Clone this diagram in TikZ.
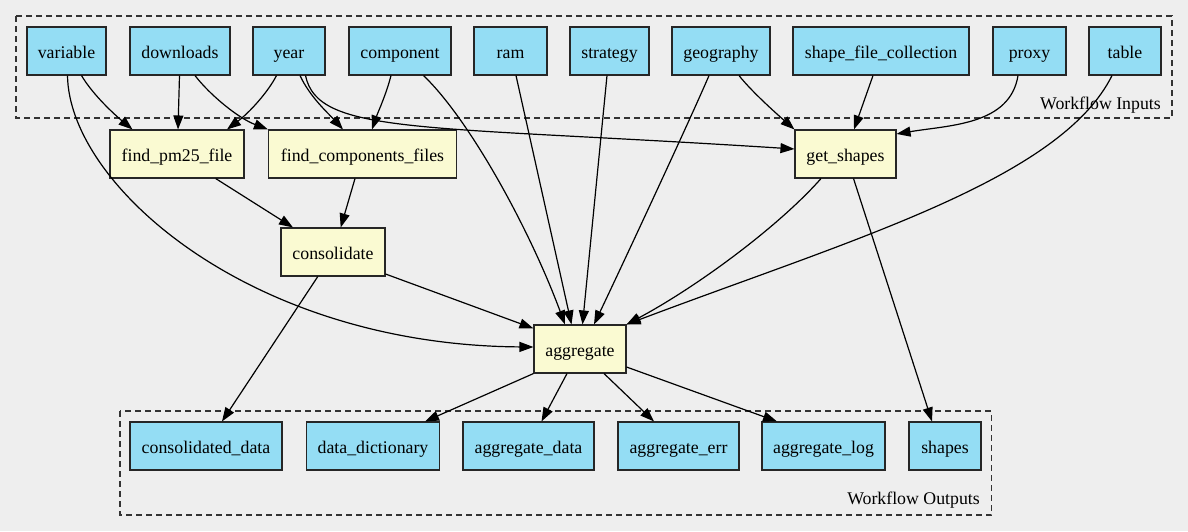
\documentclass[tikz,border=0pt]{standalone}
\usepackage{fontspec}
\setmainfont{Liberation Serif}
\usetikzlibrary{arrows.meta}
\definecolor{inbox}{RGB}{148,221,244}
\definecolor{taskbox}{RGB}{250,250,210}
\definecolor{bg}{RGB}{238,238,238}
\begin{document}
\begin{tikzpicture}[x=1pt,y=-1pt,
  box/.style={draw=black!85, line width=1.1pt, minimum height=48pt, inner sep=0pt,
    text height=18pt, text depth=4pt, font=\fontsize{17.8}{20}\selectfont},
  io/.style={box, fill=inbox},
  task/.style={box, fill=taskbox},
  e/.style={line width=1.2pt, -{Triangle[length=14pt,width=10pt]}},
  cluster/.style={draw=black!80, line width=1.3pt, dash pattern=on 6pt off 4pt},
  clabel/.style={font=\fontsize{17.8}{20}\selectfont, anchor=base east, inner sep=0pt}]
\fill[bg] (0,0) rectangle (1188,531);
\useasboundingbox (0,0) rectangle (1188,531);

% clusters
\draw[cluster] (16,16) rectangle (1172,118);
\node[clabel] (inlabel) at (1161,109) {Workflow Inputs};
\draw[cluster] (120,411) rectangle (991.5,515);
\node[clabel] (outlabel) at (980,504.5) {Workflow Outputs};

% workflow inputs
\node[io, minimum width=79pt]  (variable)  at (66.5,51)  {variable};
\node[io, minimum width=100pt] (downloads) at (180,51)   {downloads};
\node[io, minimum width=72pt]  (year)      at (289,51)   {year};
\node[io, minimum width=102pt] (component) at (400,51)   {component};
\node[io, minimum width=73pt]  (ram)       at (510.5,51) {ram};
\node[io, minimum width=79pt]  (strategy)  at (609.5,51) {strategy};
\node[io, minimum width=98pt]  (geography) at (721,51)   {geography};
\node[io, minimum width=176pt] (sfc)       at (881,51)   {shape\_file\_collection};
\node[io, minimum width=73pt]  (proxy)     at (1029.5,51){proxy};
\node[io, minimum width=72pt]  (table)     at (1125,51)  {table};

% tasks
\node[task, minimum width=134pt] (fpm)  at (177,154)   {find\_pm25\_file};
\node[task, minimum width=188pt] (fcf)  at (362.5,154) {find\_components\_files};
\node[task, minimum width=101pt] (gs)   at (845.5,154) {get\_shapes};
\node[task, minimum width=104pt] (cons) at (333,252)   {consolidate};
\node[task, minimum width=92pt]  (agg)  at (580,349)   {aggregate};

% workflow outputs
\node[io, minimum width=152pt] (cd) at (206,446)   {consolidated\_data};
\node[io, minimum width=133pt] (dd) at (373,446)   {data\_dictionary};
\node[io, minimum width=131pt] (ad) at (528.5,446) {aggregate\_data};
\node[io, minimum width=121pt] (ae) at (678.5,446) {aggregate\_err};
\node[io, minimum width=123pt] (al) at (823.5,446) {aggregate\_log};
\node[io, minimum width=72pt]  (sh) at (945,446)   {shapes};

% edges from inputs
\draw[e] ([xshift=15pt]variable.south) .. controls (93,95) and (115,115) .. ([xshift=-44.5pt]fpm.north);
\draw[e] ([xshift=1pt]variable.south) .. controls (69,185) and (250,345) .. ([yshift=2pt]agg.west);
\draw[e] ([xshift=-0.5pt]downloads.south) -- ([xshift=1pt]fpm.north);
\draw[e] ([xshift=15pt]downloads.south) .. controls (210,95) and (238,118) .. (fcf.north west);
\draw[e] ([xshift=-12.5pt]year.south) .. controls (268,92) and (250,112) .. ([xshift=50pt]fpm.north);
\draw[e] ([xshift=11pt]year.south) .. controls (310,97) and (328,113) .. ([xshift=-19.5pt]fcf.north);
\draw[e] ([xshift=16.5pt]year.south) .. controls (318,135) and (420,125) .. ([yshift=5pt]gs.west);
\draw[e] ([xshift=-9pt]component.south) .. controls (386,95) and (378,112) .. ([xshift=9.5pt]fcf.north);
\draw[e] ([xshift=23.5pt]component.south) .. controls (470,120) and (530,230) .. ([xshift=-15pt]agg.north);
\draw[e] ([xshift=5.5pt]ram.south) -- ([xshift=-8.5pt]agg.north);
\draw[e] ([xshift=-2.5pt]strategy.south) -- ([xshift=2.5pt]agg.north);
\draw[e] ([xshift=-12pt]geography.south) .. controls (690,120) and (620,270) .. ([xshift=14pt]agg.north);
\draw[e] ([xshift=18pt]geography.south) .. controls (752,92) and (778,115) .. (gs.north west);
\draw[e] ([xshift=-8pt]sfc.south) -- ([xshift=8.5pt]gs.north);
\draw[e] ([xshift=-11.5pt]proxy.south) .. controls (1010,125) and (950,125) .. ([yshift=-4.5pt]gs.north east);
\draw[e] ([xshift=-13pt]table.south) .. controls (1060,180) and (850,240) .. (agg.north east);

% edges between tasks
\draw[e] ([xshift=-24.5pt]gs.south) .. controls (780,225) and (700,285) .. (agg.north east);
\draw[e] ([xshift=8pt]gs.south) -- ([xshift=-13pt]sh.north);
\draw[e] ([xshift=38.7pt]fpm.south) -- ([xshift=-40pt]cons.north);
\draw[e] ([xshift=-7.5pt]fcf.south) -- ([xshift=7.7pt]cons.north);
\draw[e] ([yshift=-22pt]cons.east) -- ([yshift=-4pt]agg.north west);
\draw[e] ([xshift=-15.2pt]cons.south) -- ([xshift=16pt]cd.north);

% edges to outputs
\draw[e] (agg.south west) -- ([xshift=52pt]dd.north);
\draw[e] ([xshift=-13pt]agg.south) -- ([xshift=13pt]ad.north);
\draw[e] ([xshift=24pt]agg.south) -- ([xshift=-24.5pt]ae.north);
\draw[e] ([yshift=-18pt]agg.east) -- ([xshift=-46.5pt]al.north);
\end{tikzpicture}
\end{document}
